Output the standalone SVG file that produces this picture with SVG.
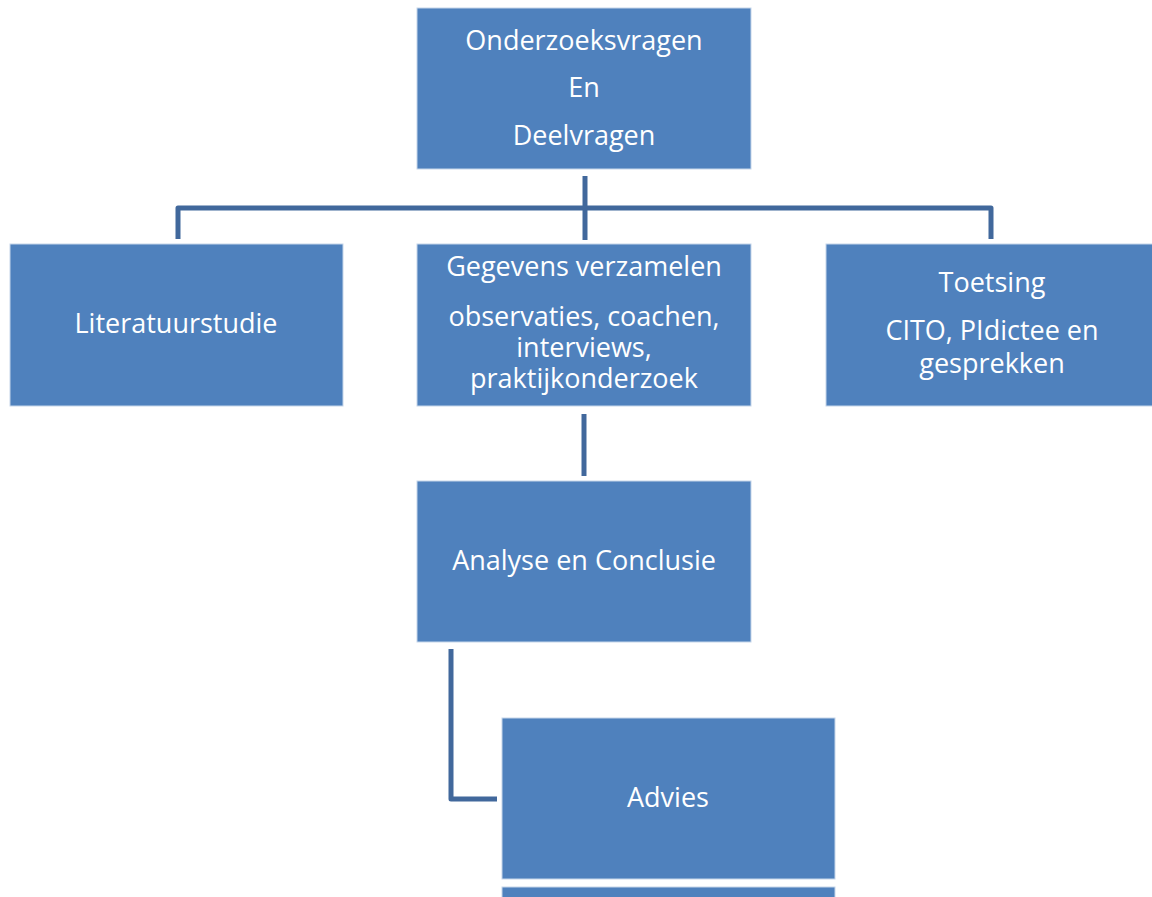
<svg xmlns="http://www.w3.org/2000/svg" width="1152" height="897" viewBox="0 0 1152 897">
<style>
.box{fill:#4f81bd;stroke:#c6d6ea;stroke-width:1}
.t{font-family:"Open Sans","Liberation Sans",sans-serif;font-size:27px;fill:#ffffff;text-anchor:middle}
.c{fill:none;stroke:#41689c;stroke-width:5;stroke-linejoin:round}
</style>
<rect width="1152" height="897" fill="#ffffff"/>
<g id="connectors">
<path class="c" d="M585 176 V240"/>
<path class="c" d="M178 239 V208 H991 V239"/>
<path class="c" d="M584 414 V476"/>
<path class="c" d="M451 649 V799 H497"/>
</g>
<g id="n1"><rect class="box" x="417" y="8" width="334" height="161"/>
<text class="t" x="584" y="50">Onderzoeksvragen</text>
<text class="t" x="584" y="97">En</text>
<text class="t" x="584" y="145">Deelvragen</text></g>
<g id="n2"><rect class="box" x="10" y="244" width="333" height="162"/>
<text class="t" x="176" y="333">Literatuurstudie</text></g>
<g id="n3"><rect class="box" x="417" y="244" width="334" height="162"/>
<text class="t" x="584" y="276">Gegevens verzamelen</text>
<text class="t" x="584" y="326">observaties, coachen,</text>
<text class="t" x="584" y="357">interviews,</text>
<text class="t" x="584" y="388">praktijkonderzoek</text></g>
<g id="n4"><rect class="box" x="826" y="244" width="334" height="162"/>
<text class="t" x="992" y="292">Toetsing</text>
<text class="t" x="992" y="340">CITO, PIdictee en</text>
<text class="t" x="992" y="373">gesprekken</text></g>
<g id="n5"><rect class="box" x="417" y="481" width="334" height="161"/>
<text class="t" x="584" y="570">Analyse en Conclusie</text></g>
<g id="n6"><rect class="box" x="502" y="718" width="333" height="161"/>
<text class="t" x="668" y="807">Advies</text></g>
<g id="n7"><rect class="box" x="502" y="887" width="333" height="20"/></g>
</svg>
